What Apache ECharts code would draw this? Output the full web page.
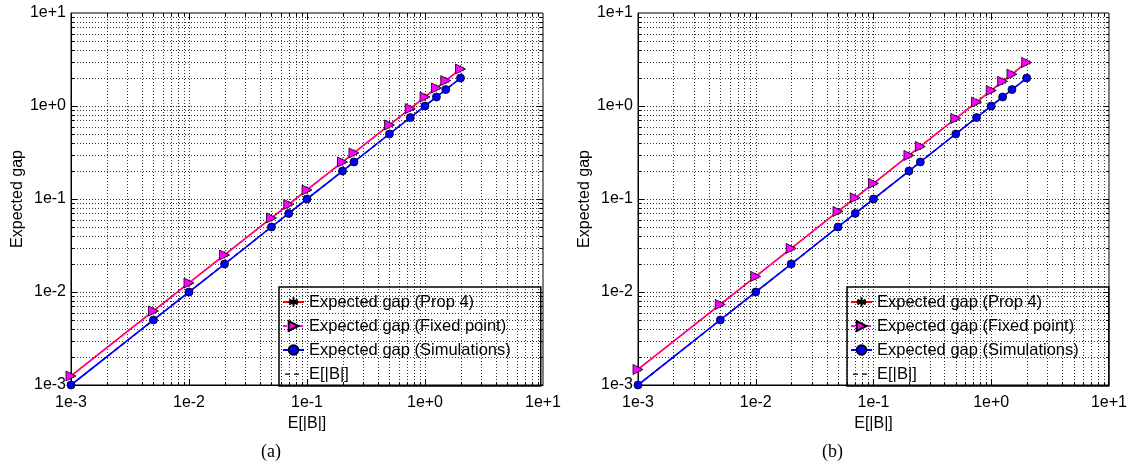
<!DOCTYPE html>
<html>
<head>
<meta charset="utf-8">
<script src="https://cdn.jsdelivr.net/npm/echarts@6/dist/echarts.min.js"></script>
<style>
html,body{margin:0;padding:0;background:#fff;}
#chart{width:1130px;height:466px;}
</style>
</head>
<body>
<div id="chart"></div>
<script>
// ---- data ----
const xValues = [0.001, 0.005, 0.01, 0.02, 0.05, 0.07, 0.1, 0.2, 0.25, 0.5, 0.75, 1, 1.25, 1.5, 2];

// panel (a)
const propA  = [0.00125, 0.00625, 0.0125, 0.025, 0.0625, 0.0875, 0.125, 0.25, 0.3125, 0.625, 0.9375, 1.25, 1.5625, 1.875, 2.5];
const fixedA = [0.00125, 0.00625, 0.0125, 0.025, 0.0625, 0.0875, 0.125, 0.25, 0.3125, 0.625, 0.9375, 1.25, 1.5625, 1.875, 2.5];
const simA   = [0.001, 0.005, 0.01, 0.02, 0.05, 0.07, 0.1, 0.2, 0.25, 0.5, 0.75, 1, 1.25, 1.5, 2];
const ebA    = [0.001, 0.005, 0.01, 0.02, 0.05, 0.07, 0.1, 0.2, 0.25, 0.5, 0.75, 1, 1.25, 1.5, 2];

// panel (b)
const propB  = [0.00147, 0.00735, 0.0147, 0.0294, 0.0735, 0.103, 0.147, 0.294, 0.3675, 0.735, 1.1, 1.47, 1.84, 2.2, 2.94];
const fixedB = [0.00147, 0.00735, 0.0147, 0.0294, 0.0735, 0.103, 0.147, 0.294, 0.3675, 0.735, 1.1, 1.47, 1.84, 2.2, 2.94];
const simB   = [0.001, 0.005, 0.01, 0.02, 0.05, 0.07, 0.1, 0.2, 0.25, 0.5, 0.75, 1, 1.25, 1.5, 2];
const ebB    = [0.001, 0.005, 0.01, 0.02, 0.05, 0.07, 0.1, 0.2, 0.25, 0.5, 0.75, 1, 1.25, 1.5, 2];

const axisMin = 0.001, axisMax = 10;
const seriesNames = ['Expected gap (Prop 4)', 'Expected gap (Fixed point)', 'Expected gap (Simulations)', 'E[|B|]'];
const xName = 'E[|B|]';
const yName = 'Expected gap';
const captions = ['(a)', '(b)'];

// ---- helpers ----
const FONT = "'Liberation Sans', Arial, Helvetica, sans-serif";
function zip(xs, ys){ return xs.map((x,i)=>[x, ys[i]]); }
function logLabel(v){
  const e = Math.round(Math.log10(v));
  return '1e' + (e >= 0 ? '+' : '-') + Math.abs(e);
}
// grid line positions (decoration, not data)
const gridLinesPos = [];
for (let d = -3; d < 1; d++) {
  for (let k = 1; k <= 9; k++) gridLinesPos.push({v: k * Math.pow(10, d), major: k === 1});
}
gridLinesPos.push({v: 10, major: true});

function gridRender(params, api){
  const bl = api.coord([axisMin, axisMin]);
  const tr = api.coord([axisMax, axisMax]);
  const x0 = bl[0], y0 = bl[1], x1 = tr[0], y1 = tr[1];
  const children = [];
  const dotStyle = {stroke:'#000', lineWidth:1, lineDash:[1,2], opacity:0.8};
  const tickStyle = {stroke:'#000', lineWidth:1};
  gridLinesPos.forEach(g => {
    const len = g.major ? 6 : 3;
    const px = Math.round(api.coord([g.v, axisMin])[0]) + 0.5;
    const py = Math.round(api.coord([axisMin, g.v])[1]) + 0.5;
    const inside = g.v > axisMin * 1.0001 && g.v < axisMax * 0.9999;
    if (inside) {
      children.push({type:'line', silent:true, shape:{x1:px, y1:y1, x2:px, y2:y0}, style:dotStyle});
      children.push({type:'line', silent:true, shape:{x1:x0, y1:py, x2:x1, y2:py}, style:dotStyle});
      children.push({type:'line', silent:true, shape:{x1:px, y1:y0, x2:px, y2:y0-len}, style:tickStyle});
      children.push({type:'line', silent:true, shape:{x1:px, y1:y1, x2:px, y2:y1+len}, style:tickStyle});
      children.push({type:'line', silent:true, shape:{x1:x0, y1:py, x2:x0+len, y2:py}, style:tickStyle});
      children.push({type:'line', silent:true, shape:{x1:x1, y1:py, x2:x1-len, y2:py}, style:tickStyle});
    }
  });
  return {type:'group', children};
}

const starPath = 'path://M0,-10L0,10M-8.66,-5L8.66,5M-8.66,5L8.66,-5M-10,0L10,0';
// legend icon for the dashed E[|B|] line (two short dashes, box 21x12)
const dashIcon = 'path://M2,5.4h5v1.4h-5zM11,5.4h5v1.4h-5zM0,0h0.05v0.05h-0.05zM20.95,11.95h0.05v0.05h-0.05z';

function panelSeries(idx, prop, fixed, sim, eb){
  return [
    {
      type:'custom', name:'grid'+idx, xAxisIndex:idx, yAxisIndex:idx, z:1,
      silent:true, clip:false, data:[[1,1]], renderItem:gridRender, legendHoverLink:false
    },
    {
      type:'line', name:seriesNames[0], xAxisIndex:idx, yAxisIndex:idx, z:3,
      data:zip(xValues, prop), symbol:starPath, symbolSize:7, showSymbol:true,
      lineStyle:{color:'#ff0000', width:1.6},
      itemStyle:{color:'#000', borderColor:'#000', borderWidth:1},
      animation:false
    },
    {
      type:'line', name:seriesNames[1], xAxisIndex:idx, yAxisIndex:idx, z:4,
      data:zip(xValues, fixed), symbol:'triangle', symbolRotate:-90, symbolSize:10,
      lineStyle:{color:'#ff00ff', width:1.6, type:[4,4]},
      itemStyle:{color:'#ff00ff', borderColor:'#000', borderWidth:0.8},
      animation:false
    },
    {
      type:'line', name:seriesNames[2], xAxisIndex:idx, yAxisIndex:idx, z:5,
      data:zip(xValues, sim), symbol:'circle', symbolSize:8,
      lineStyle:{color:'#0000ff', width:1.6},
      itemStyle:{color:'#0000ff', borderColor:'#000', borderWidth:0.8},
      animation:false
    },
    {
      type:'line', name:seriesNames[3], xAxisIndex:idx, yAxisIndex:idx, z:4,
      data:zip(xValues, eb), symbol:'none',
      lineStyle:{color:'#000', width:1.4, type:[4,4]},
      itemStyle:{color:'#000'},
      animation:false
    }
  ];
}

function xAxisCfg(idx){
  return {
    type:'log', logBase:10, gridIndex:idx, min:axisMin, max:axisMax,
    name:xName, nameLocation:'middle', nameGap:30,
    nameTextStyle:{color:'#000', fontSize:16, fontFamily:FONT},
    axisLine:{show:true, lineStyle:{color:'#000', width:1}},
    axisTick:{show:false}, minorTick:{show:false},
    splitLine:{show:false},
    axisLabel:{color:'#000', fontSize:16, fontFamily:FONT, margin:10, formatter:logLabel}
  };
}
function yAxisCfg(idx){
  return {
    type:'log', logBase:10, gridIndex:idx, min:axisMin, max:axisMax,
    name:yName, nameLocation:'middle', nameGap:44,
    nameTextStyle:{color:'#000', fontSize:16, fontFamily:FONT},
    axisLine:{show:true, lineStyle:{color:'#000', width:1}},
    axisTick:{show:false}, minorTick:{show:false},
    splitLine:{show:false},
    axisLabel:{color:'#000', fontSize:16, fontFamily:FONT, margin:5, formatter:logLabel}
  };
}
function legendCfg(left){
  return {
    orient:'vertical', left:left, top:287,
    data:[
      {name:seriesNames[0]},
      {name:seriesNames[1]},
      {name:seriesNames[2]},
      {name:seriesNames[3], icon:dashIcon}
    ],
    itemWidth:21, itemHeight:12, itemGap:6,
    padding:[6, 30, 3, 3],
    borderColor:'#000', borderWidth:1.5, backgroundColor:'transparent',
    textStyle:{color:'#000', fontSize:16.5, fontFamily:FONT, lineHeight:18},
    selectedMode:false
  };
}

const chart = echarts.init(document.getElementById('chart'), null, {renderer:'canvas'});
chart.setOption({
  animation:false,
  backgroundColor:'#fff',
  grid:[
    {left:71, top:13, width:472, height:372, show:true, borderColor:'#000', borderWidth:1, containLabel:false},
    {left:638, top:13, width:472, height:372, show:true, borderColor:'#000', borderWidth:1, containLabel:false}
  ],
  xAxis:[xAxisCfg(0), xAxisCfg(1)],
  yAxis:[yAxisCfg(0), yAxisCfg(1)],
  legend:[legendCfg(279), legendCfg(847)],
  graphic:[
    {type:'text', left:261, top:443, style:{text:captions[0], fill:'#000', font:"18px 'Liberation Serif', 'Times New Roman', serif"}},
    {type:'text', left:822, top:443, style:{text:captions[1], fill:'#000', font:"18px 'Liberation Serif', 'Times New Roman', serif"}}
  ],
  series:[].concat(
    panelSeries(0, propA, fixedA, simA, ebA),
    panelSeries(1, propB, fixedB, simB, ebB)
  )
});
</script>
</body>
</html>
